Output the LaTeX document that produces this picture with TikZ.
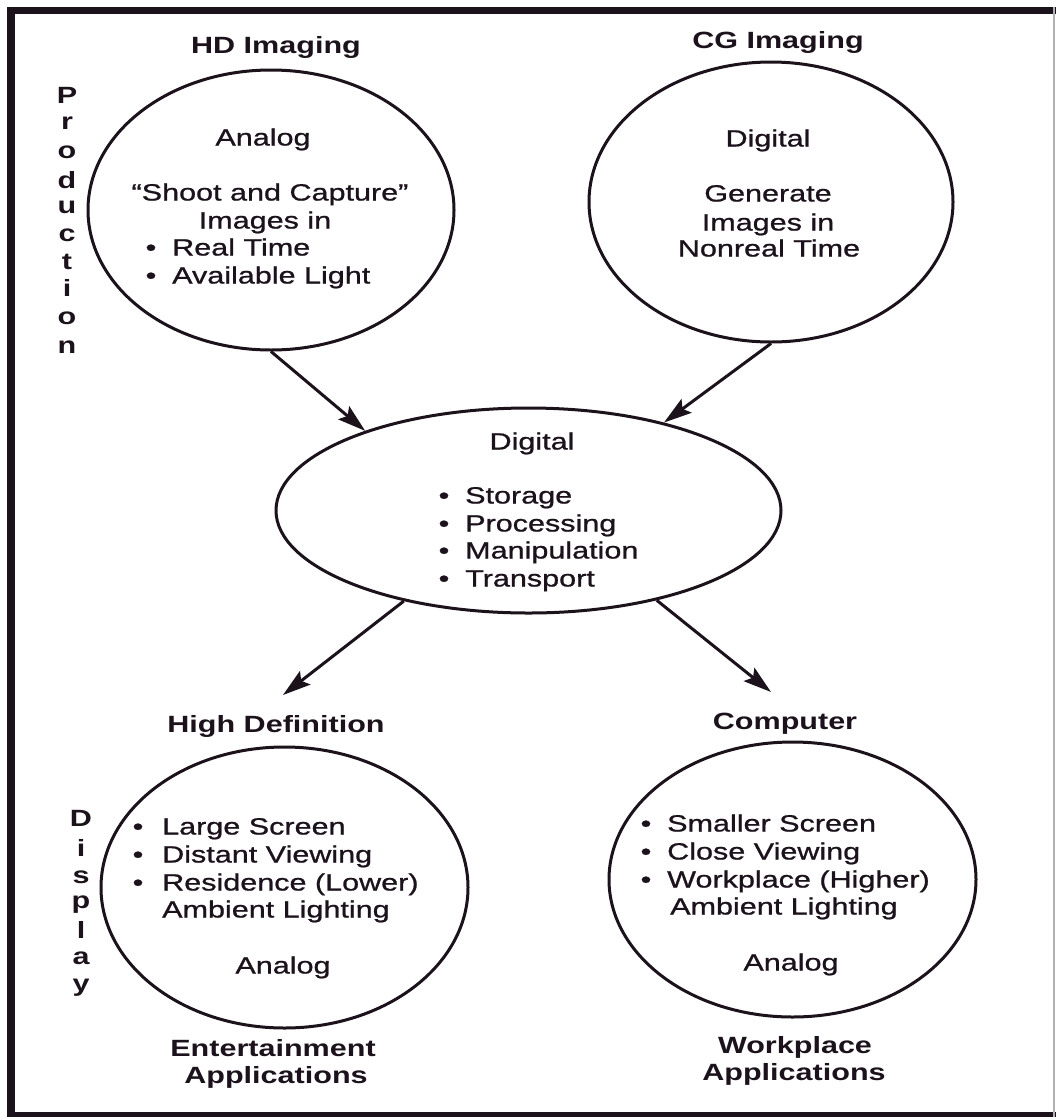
\documentclass[tikz,border=0pt]{standalone}
\usepackage{fontspec}
\setmainfont{Liberation Sans}[FakeStretch=1.3]
\newfontfamily\bodyface{Liberation Sans}[FakeStretch=1.3, FakeBold=0.9, Ligatures=TeX]
\usetikzlibrary{shapes.geometric,arrows.meta}
\definecolor{ink}{RGB}{28,18,28}
\begin{document}
\begin{tikzpicture}[x=1pt,y=-1pt,
  blob/.style={draw=ink, line width=3pt, ellipse, inner sep=0pt},
  arr/.style={draw=ink, line width=3pt, -{Stealth[length=28pt,width=17pt,inset=5pt,fill=ink]}},
  txt/.style={inner sep=0pt, anchor=base, text=ink, font=\bodyface\fontsize{23.5}{27.7}\selectfont},
  lst/.style={txt, anchor=base west},
  dot/.style={txt},
  ttl/.style={inner sep=0pt, anchor=base, text=ink, font=\fontsize{23.5}{27.7}\selectfont\bfseries},
  vlet/.style={inner sep=0pt, anchor=center, text=ink, font=\fontsize{23.5}{27.7}\selectfont\bfseries}
]
\useasboundingbox (0,0) rectangle (1056,1117);
\fill[white] (0,0) rectangle (1056,1117);

% outer frame
\draw[ink, line width=8pt] (11,7) -- (11,1117);
\draw[ink, line width=7pt] (7,10.5) -- (1056,10.5);
\draw[ink, line width=5pt] (7,1114.5) -- (1056,1114.5);
\draw[gray!60, line width=1.5pt] (1054,7) -- (1054,1117);

% ellipses
\node[blob, minimum width=366pt, minimum height=280pt] (hd) at (271,210) {};
\node[blob, minimum width=364pt, minimum height=280pt] (cg) at (771,202) {};
\node[blob, minimum width=505pt, minimum height=205pt] (mid) at (528.5,510.5) {};
\node[blob, minimum width=367pt, minimum height=281pt] (hdd) at (284.5,887.5) {};
\node[blob, minimum width=367pt, minimum height=275pt] (comp) at (792.5,879.5) {};

% connectors
\coordinate (hdtip) at (283,695);
\coordinate (comptip) at (771,692);
\draw[arr] (hd.south) -- (mid.154);
\draw[arr] (cg.south) -- (mid.33);
\draw[arr] (mid.216) -- (hdtip);
\draw[arr] (mid.-35) -- (comptip);

% titles
\node[ttl] (thd) at (276,53.5) {HD Imaging};
\node[ttl] (tcg) at (778,48.5) {CG Imaging};
\node[ttl] (thdd) at (276,732.5) {High Definition};
\node[ttl] (tcomp) at (785,729.5) {Computer};
\node[ttl] (ent1) at (273,1056.5) {Entertainment};
\node[ttl] (ent2) at (276,1083.5) {Applications};
\node[ttl] (wp1) at (795,1053.5) {Workplace};
\node[ttl] (wp2) at (794,1080.5) {Applications};

% side labels
\foreach \l/\yy [count=\i] in {P/95,r/123,o/152,d/180,u/207,c/235,t/262,i/288,o/318,n/347}
  \node[vlet] (prod\i) at (67,\yy) {\l};
\foreach \l/\yy [count=\i] in {D/818,i/848,s/877,p/905,l/930,a/958,y/988}
  \node[vlet] (disp\i) at (81,\yy) {\l};

% HD imaging
\node[txt] (hda) at (263,145.5) {Analog};
\node[txt] (hdb) at (270,200.5) {“Shoot and Capture”};
\node[txt] (hdc) at (265,228.5) {Images in};
\node[dot] (hdd1) at (151,255.5) {\textbullet};
\node[lst] (hdl1) at (172,255.5) {Real Time};
\node[dot] (hdd2) at (151,283.5) {\textbullet};
\node[lst] (hdl2) at (172,283.5) {Available Light};

% CG imaging
\node[txt] (cga) at (768,146.5) {Digital};
\node[txt] (cgb) at (768,201.5) {Generate};
\node[txt] (cgc) at (768,230.5) {Images in};
\node[txt] (cgd) at (769,256.5) {Nonreal Time};

% digital core
\node[txt] (mida) at (532,449.5) {Digital};
\node[dot] (midd1) at (444,503.5) {\textbullet};
\node[lst] (midl1) at (465,503.5) {Storage};
\node[dot] (midd2) at (444,531.5) {\textbullet};
\node[lst] (midl2) at (465,531.5) {Processing};
\node[dot] (midd3) at (444,558.5) {\textbullet};
\node[lst] (midl3) at (465,558.5) {Manipulation};
\node[dot] (midd4) at (444,586.5) {\textbullet};
\node[lst] (midl4) at (465,586.5) {Transport};

% high definition display
\node[dot] (hdsd1) at (138,834.5) {\textbullet};
\node[lst] (hdsl1) at (162,834.5) {Large Screen};
\node[dot] (hdsd2) at (138,862.5) {\textbullet};
\node[lst] (hdsl2) at (162,862.5) {Distant Viewing};
\node[dot] (hdsd3) at (138,890.5) {\textbullet};
\node[lst] (hdsl3) at (162,890.5) {Residence (Lower)};
\node[lst] (hdsl4) at (162,917.5) {Ambient Lighting};
\node[txt] (hdsa) at (283,973.5) {Analog};

% computer display
\node[dot] (cpd1) at (646,831.5) {\textbullet};
\node[lst] (cpl1) at (667,831.5) {Smaller Screen};
\node[dot] (cpd2) at (646,859.5) {\textbullet};
\node[lst] (cpl2) at (667,859.5) {Close Viewing};
\node[dot] (cpd3) at (646,887.5) {\textbullet};
\node[lst] (cpl3) at (667,887.5) {Workplace (Higher)};
\node[lst] (cpl4) at (670,914.5) {Ambient Lighting};
\node[txt] (cpa) at (791,970.5) {Analog};
\end{tikzpicture}
\end{document}
